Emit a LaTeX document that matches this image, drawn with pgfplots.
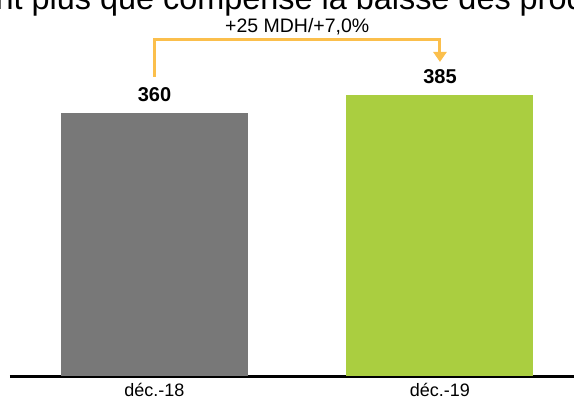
\documentclass[border=0pt]{standalone}
\usepackage{fontspec}
\setmainfont{Liberation Sans}
\usepackage{pgfplots}
\pgfplotsset{compat=1.18}
\usetikzlibrary{arrows.meta}
\definecolor{barGray}{HTML}{787878}
\definecolor{barGreen}{HTML}{AACE40}
\definecolor{bracket}{HTML}{FBBF4C}
\begin{document}
\begin{tikzpicture}
\useasboundingbox (0,0) rectangle (574pt,397pt);
\clip (0,0) rectangle (574pt,397pt);
\node[anchor=base west, inner sep=0pt, font=\fontsize{32.4}{32.4}\selectfont] at (-4.5pt,387.5pt) {nt plus que compense la baisse des produits};
\begin{axis}[
 at={(10pt,20.5pt)}, anchor=south west,
 scale only axis, width=564pt, height=376.5pt,
 xmin=-0.506, xmax=1.4695, ymin=0, ymax=515.3,
 axis y line=none, axis x line*=bottom,
 x axis line style={line width=3.5pt, -},
 xtick={0,1}, xticklabels={déc.-18,déc.-19},
 xtick style={draw=none},
 xticklabel style={font=\fontsize{18}{18}\selectfont, anchor=base, yshift=-15.5pt},
 ybar, bar width=187pt, bar shift=0pt,
 /pgf/number format/assume math mode=true,
 nodes near coords,
 nodes near coords style={font=\bfseries\fontsize{20}{20}\selectfont, anchor=base, yshift=11.6pt, text=black},
 clip=false,
]
\addplot[fill=barGray, draw=none] coordinates {(0,360)};
\addplot[fill=barGreen, draw=none] coordinates {(1,385)};
\draw[bracket, line width=3pt, line join=miter, -{Triangle[width=13pt,length=10pt]}] (axis cs:0,410) |- (axis cs:1,460.6) -- (axis cs:1,430.5);
\node[anchor=base, font=\fontsize{19.5}{19.5}\selectfont] at (axis cs:0.5,471.5) {+25 MDH/+7,0\%};
\end{axis}
\end{tikzpicture}
\end{document}
